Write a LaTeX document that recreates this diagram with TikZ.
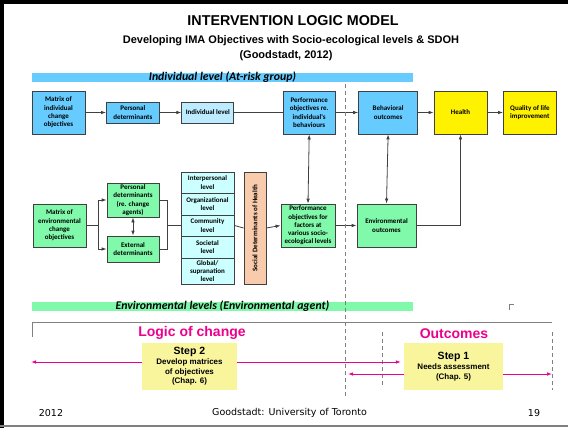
\documentclass[tikz,border=0pt]{standalone}
\usepackage{fontspec}
\setmainfont{Liberation Sans}
\newfontfamily\boxfont{Carlito}
\newfontfamily\footfont{DejaVu Sans}
\usepackage{tikz}
\usetikzlibrary{calc}
\usetikzlibrary{arrows.meta}

\definecolor{skyblue}{HTML}{66CCFF}
\definecolor{paleblue}{HTML}{BDEBFF}
\definecolor{levelcyan}{HTML}{CCFFFF}
\definecolor{mintgreen}{HTML}{80F9AA}
\definecolor{peach}{HTML}{F8CBAD}
\definecolor{stepyellow}{HTML}{F9F59C}
\definecolor{linegray}{HTML}{404040}

\tikzset{
	box/.style={rectangle, draw=linegray, line width=0.8pt, align=center, inner sep=0.5pt, font=\boxfont\bfseries\fontsize{7}{8.3}\selectfont},
	flow/.style={draw=linegray, line width=0.8pt},
	bar/.style={rectangle, minimum width=381, minimum height=9, inner sep=0pt, text height=7.5, text depth=1.5, font=\boxfont\bfseries\itshape\fontsize{11.8}{13}\selectfont},
	stepbox/.style={rectangle, fill=stepyellow, align=center, inner sep=1pt, font=\bfseries\fontsize{8}{9.7}\selectfont},
	pinkline/.style={draw=magenta, line width=0.9pt},
}

\begin{document}
\begin{tikzpicture}[x=1pt, y=-1pt, >={Latex[length=5pt,width=3.6pt]}]
		\useasboundingbox (0,0) rectangle (568,428);
		%frame
		\fill [black] (0,0) rectangle (4,428);
		\fill [black] (0,0) rectangle (568,4);
		\fill [gray] (0,425) rectangle (568,427);

		%titles
		\node [font=\bfseries\fontsize{14.3}{16}\selectfont] at (293,21) (title) {INTERVENTION LOGIC MODEL};
		\node [font=\bfseries\fontsize{11}{13}\selectfont] at (291,41) (subtitle) {Developing IMA Objectives with Socio-ecological levels \& SDOH};
		\node [font=\bfseries\fontsize{11}{13}\selectfont] at (286,56) (source) {(Goodstadt, 2012)};

		\node [bar, fill=skyblue] at (222.5,77.5) (indbar) {Individual level (At-risk group)};
		\node [bar, fill=mintgreen] at (222.5,306.5) (envbar) {Environmental levels (Environmental agent)};

		%elements
		\node [box, fill=skyblue, minimum width=53, minimum height=43] at (58.5,112.5) (indmatrix) {Matrix of\\individual\\change\\objectives};

		\node [box, fill=skyblue, minimum width=53, minimum height=21] at ($(indmatrix.east)+(47.5,0)$) (persdet) {Personal\\determinants};

		\node [box, fill=paleblue, minimum width=52, minimum height=21] at ($(persdet.east)+(48,0)$) (indlevel) {Individual level};

		\node [box, fill=skyblue, minimum width=52, minimum height=43] at ($(indlevel.east)+(75,0)$) (perfind) {Performance\\objectives re.\\individual's\\behaviours};

		\node [box, fill=skyblue, minimum width=59, minimum height=43] at ($(perfind.east)+(52.5,0)$) (behav) {Behavioral\\outcomes};

		\node [box, fill=yellow, minimum width=53, minimum height=43] at ($(behav.east)+(42.5,0)$) (health) {Health};

		\node [box, fill=yellow, minimum width=53, minimum height=43] at ($(health.east)+(42.5,0)$) (quality) {Quality of life\\improvement};

		\node [box, fill=mintgreen, minimum width=53, minimum height=43] at (59.5,225.5) (envmatrix) {Matrix of\\environmental\\change\\objectives};

		\node [box, fill=mintgreen, minimum width=52, minimum height=34] at (133,200) (agentdet) {Personal\\determinants\\(re. change\\agents)};

		\node [box, fill=mintgreen, minimum width=52, minimum height=26] at (133,249) (extdet) {External\\determinants};

		\node [box, fill=levelcyan, minimum width=53, minimum height=21] at (207.5,182.5) (lvinter) {Interpersonal\\level};
		\node [box, fill=levelcyan, minimum width=53, minimum height=22] at (207.5,204) (lvorg) {Organizational\\level};
		\node [box, fill=levelcyan, minimum width=53, minimum height=21] at (207.5,225.5) (lvcomm) {Community\\level};
		\node [box, fill=levelcyan, minimum width=53, minimum height=22] at (207.5,247) (lvsoc) {Societal\\level};
		\node [box, fill=levelcyan, minimum width=53, minimum height=26] at (207.5,271) (lvglobal) {Global/\\supranation\\level};

		\node [box, fill=peach, minimum width=22, minimum height=112] at (255,228) (sdoh) {};
		\node [font=\boxfont\bfseries\fontsize{7}{8}\selectfont, rotate=90] at (sdoh.center) (sdohtext) {Social Determinants of Health};

		\node [box, fill=mintgreen, minimum width=54, minimum height=43] at (308,225.5) (perffac) {Performance\\objectives for\\factors at\\various socio-\\ecological levels};

		\node [box, fill=mintgreen, minimum width=59, minimum height=43] at (386.5,225.5) (envout) {Environmental\\outcomes};

		%arrows
		\draw [flow, ->] (indmatrix.east) -- (persdet.west);
		\draw [flow, ->] (persdet.east) -- (indlevel.west);
		\draw [flow] (indlevel.east) -- (perfind.west);
		\draw [flow, ->] (perfind.east) -- (behav.west);
		\draw [flow, ->] (behav.east) -- (health.west);
		\draw [flow, ->] (health.east) -- (quality.west);
		\draw [flow, <->] (perfind.south) -- (perffac.north);
		\draw [flow, <->] (behav.south) -- (envout.north);
		\draw [flow, ->] (envout.east) -| (health.south);

		\coordinate (envsplit) at ($(envmatrix.east)+(12,0)$);
		\coordinate (lvjoin) at ($(lvcomm.west)+(-13,0)$);
		\draw [flow] (envmatrix.east) -- (envsplit);
		\draw [flow, ->] (envsplit) |- (agentdet.west);
		\draw [flow, ->] (envsplit) |- (extdet.west);
		\draw [flow, <->] (agentdet.south) -- (extdet.north);
		\draw [flow] (agentdet.east) -| (lvjoin);
		\draw [flow] (extdet.east) -| (lvjoin);
		\draw [flow] (lvjoin) -- (lvcomm.west);
		\draw [flow] (lvcomm.east) -- (sdoh.west);
		\draw [flow, ->] (sdoh.east) -- (perffac.west);
		\draw [flow, ->] (perffac.east) -- (envout.west);

		%dividers
		\draw [gray, line width=0.8pt, dash pattern=on 4pt off 3pt] (345,84) -- (345,397);
		\draw [gray, line width=0.7pt] (32,337) -- (32,322) -- (552,322);
		\draw [gray, line width=0.8pt, dash pattern=on 4pt off 3pt] (382,332) -- (382,386);
		\draw [gray, line width=0.8pt, dash pattern=on 4pt off 3pt] (552,332) -- (552,390);
		\draw [gray, line width=0.6pt] (509,310) -- (509,304) -- (514,304);

		%steps
		\node [font=\bfseries\fontsize{14}{16}\selectfont, text=magenta] at (192,333) (logic) {Logic of change};
		\node [font=\bfseries\fontsize{14}{16}\selectfont, text=magenta] at (454,334) (outcomes) {Outcomes};

		\node [stepbox, minimum width=95, minimum height=47] at (189.5,366.5) (step2) {{\fontsize{10.5}{12}\selectfont Step 2}\\Develop matrices\\of objectives\\(Chap. 6)};
		\node [stepbox, minimum width=99, minimum height=47] at (453.5,366.5) (step1) {{\fontsize{10.5}{12}\selectfont Step 1}\\Needs assessment\\(Chap. 5)};

		\coordinate (logicend) at (31,362);
		\coordinate (outleft) at (348,374);
		\coordinate (outright) at (552,374);
		\draw [pinkline, ->, magenta] (step2.west |- logicend) -- (logicend);
		\draw [pinkline, ->, magenta, shorten >=3pt] (step2.east |- logicend) -- (step1.west |- logicend);
		\draw [pinkline, ->, magenta] (step1.west |- outleft) -- (outleft);
		\draw [pinkline, ->, magenta] (step1.east |- outright) -- (outright);

		%footer
		\node [font=\footfont\fontsize{9.5}{11}\selectfont] at (51,413) (footyear) {2012};
		\node [font=\footfont\fontsize{9.5}{11}\selectfont] at (289.5,413) (footsrc) {Goodstadt: University of Toronto};
		\node [font=\footfont\fontsize{9.5}{11}\selectfont] at (534,413) (footpage) {19};
\end{tikzpicture}
\end{document}
